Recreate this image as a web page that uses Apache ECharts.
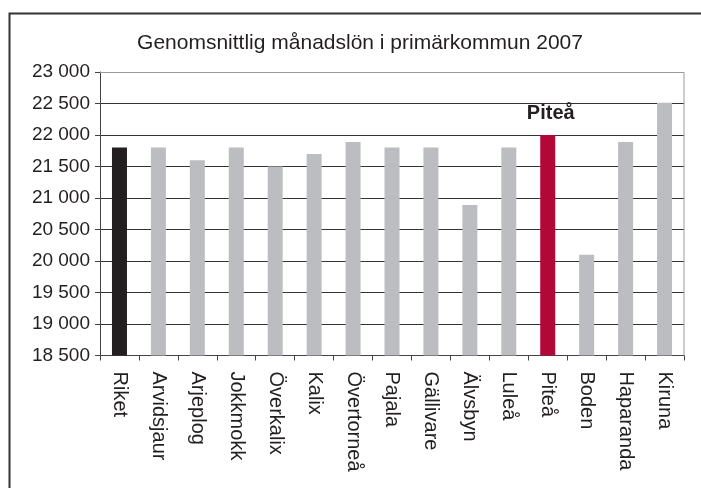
<!DOCTYPE html>
<html lang="sv">
<head>
    <meta charset="UTF-8">
    <title>Genomsnittlig månadslön i primärkommun 2007</title>
    <style>
        html, body { margin: 0; padding: 0; background: #fff; }
        #chart { width: 701px; height: 488px; }
    </style>
</head>
<body>
    <div id="chart"></div>
    <script src="https://cdn.jsdelivr.net/npm/echarts@6/dist/echarts.min.js"></script>
    <script>
        // Data
        const kommuner = ['Riket', 'Arvidsjaur', 'Arjeplog', 'Jokkmokk', 'Överkalix', 'Kalix', 'Övertorneå',
            'Pajala', 'Gällivare', 'Älvsbyn', 'Luleå', 'Piteå', 'Boden', 'Haparanda', 'Kiruna'];
        const lon = [21800, 21800, 21600, 21800, 21500, 21700, 21890, 21800, 21800, 20890, 21800, 22000, 20100, 21890, 22510];
        const markerad = 'Piteå';

        const font = 'Liberation Sans, Arial, sans-serif';
        const chart = echarts.init(document.getElementById('chart'));

        const data = lon.map(function (v, i) {
            let color = '#bcbdc0';
            if (kommuner[i] === 'Riket') color = '#231f20';
            if (kommuner[i] === markerad) color = '#b20838';
            const d = { value: v, itemStyle: { color: color } };
            if (kommuner[i] === markerad) {
                d.label = {
                    show: true,
                    position: 'top',
                    distance: 12,
                    offset: [3, 0],
                    formatter: markerad,
                    fontFamily: font,
                    fontWeight: 'bold',
                    fontSize: 20,
                    color: '#231f20'
                };
            }
            return d;
        });

        chart.setOption({
            animation: false,
            title: {
                text: 'Genomsnittlig månadslön i primärkommun 2007',
                left: 355,
                textAlign: 'center',
                top: 28,
                textStyle: {
                    fontFamily: font,
                    fontWeight: 'normal',
                    fontSize: 21,
                    color: '#231f20'
                }
            },
            grid: { left: 100, right: 17, top: 72, bottom: 132.5 },
            xAxis: {
                type: 'category',
                data: kommuner,
                axisLine: { lineStyle: { color: '#444', width: 1 } },
                axisTick: { show: true, length: 5, lineStyle: { color: '#444' } },
                axisLabel: {
                    rotate: -90,
                    interval: 0,
                    margin: 16,
                    fontFamily: font,
                    fontSize: 20,
                    color: '#231f20'
                }
            },
            yAxis: {
                type: 'value',
                min: 18500,
                max: 23000,
                interval: 500,
                axisLine: { show: true, lineStyle: { color: '#444', width: 1 } },
                axisTick: { show: true, length: 5, lineStyle: { color: '#444' } },
                splitLine: { lineStyle: { color: '#333', width: 1 } },
                axisLabel: {
                    margin: 10,
                    fontFamily: font,
                    fontSize: 19,
                    color: '#231f20',
                    formatter: function (v) {
                        return String(v).replace(/\B(?=(\d{3})+(?!\d))/g, ' ');
                    }
                }
            },
            series: [{
                type: 'bar',
                data: data,
                barWidth: 15
            }],
            graphic: [
                {
                    type: 'rect',
                    left: 7,
                    top: 11,
                    shape: { width: 760, height: 520 },
                    style: { fill: 'none', stroke: '#333', lineWidth: 2 },
                    silent: true
                },
                {
                    type: 'polyline',
                    shape: { points: [[100, 72.5], [684, 72.5], [684, 355.5]] },
                    style: { stroke: '#9a9a9a', lineWidth: 1, fill: 'none' },
                    silent: true,
                    z: 10
                }
            ]
        });
    </script>
</body>
</html>
